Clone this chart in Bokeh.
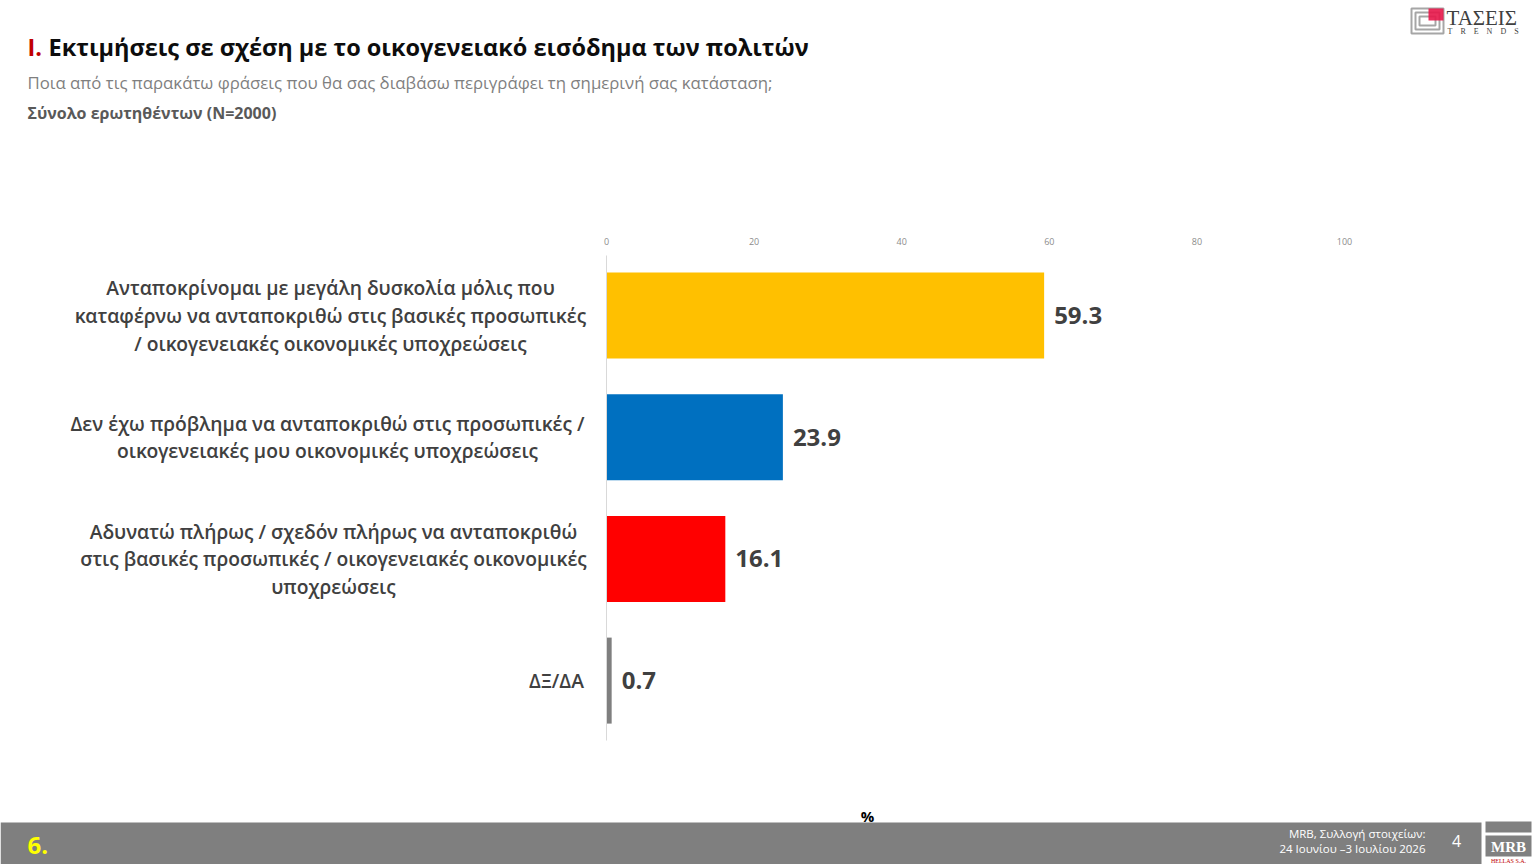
from bokeh.plotting import figure
from bokeh.models import Range1d, LinearAxis, FixedTicker, ColumnDataSource
from bokeh.core.properties import value
from bokeh.embed import file_html
from bokeh.resources import INLINE

# ---------------- data ----------------
categories = [
    "Ανταποκρίνομαι με μεγάλη δυσκολία μόλις που\nκαταφέρνω να ανταποκριθώ στις βασικές προσωπικές\n/ οικογενειακές οικονομικές υποχρεώσεις",
    "Δεν έχω πρόβλημα να ανταποκριθώ στις προσωπικές /\nοικογενειακές μου οικονομικές υποχρεώσεις",
    "Αδυνατώ πλήρως / σχεδόν πλήρως να ανταποκριθώ\nστις βασικές προσωπικές / οικογενειακές οικονομικές\nυποχρεώσεις",
    "ΔΞ/ΔΑ",
]
values = [59.3, 23.9, 16.1, 0.7]
bar_colors = ["#FFC000", "#0070C0", "#FF0000", "#7F7F7F"]
x_ticks = [0, 20, 40, 60, 80, 100]

title_num = "I."
title_text = "Εκτιμήσεις σε σχέση με το οικογενειακό εισόδημα των πολιτών"
subtitle = "Ποια από τις παρακάτω φράσεις που θα σας διαβάσω περιγράφει τη σημερινή σας κατάσταση;"
base_text = "Σύνολο ερωτηθέντων (N=2000)"
unit_text = "%"
page_label = "6."
source_text = "MRB, Συλλογή στοιχείων:\n24 Ιουνίου –3 Ιουλίου 2026"
page_number = "4"

# ---------------- layout ----------------
W, H = 1536, 864
X0, PXU = 606, 7.38          # pixel of value 0, pixels per unit
Y_FIRST, Y_STEP, BAR_H = 315, 121.7, 86
LABEL_CX = [330, 327, 333, 556]

SEMI = value("Open Sans SemiBold, Open Sans")
REG = value("Open Sans")

p = figure(width=W, height=H,
           x_range=Range1d(-X0 / PXU, (W - X0) / PXU),
           y_range=Range1d(H, 0),
           x_axis_type=None, y_axis_type=None,
           toolbar_location=None, output_backend="svg",
           min_border=0, outline_line_color=None,
           background_fill_color="white", border_fill_color="white")
p.extra_x_ranges = {"px": Range1d(0, W)}
p.xgrid.visible = False
p.ygrid.visible = False

ys = [Y_FIRST + i * Y_STEP for i in range(len(values))]
src = ColumnDataSource(dict(
    y=ys, v=values, c=bar_colors, cat=categories, lx=LABEL_CX,
    t=[f"{v:.1f}" for v in values],
))

# top value axis
top_ax = LinearAxis(ticker=FixedTicker(ticks=x_ticks), fixed_location=254,
                    axis_line_color=None, major_tick_line_color=None,
                    minor_tick_line_color=None,
                    major_label_text_font_size="9px",
                    major_label_text_color="#8C8C8C",
                    major_label_text_font="Open Sans",
                    major_label_standoff=4)
p.add_layout(top_ax, "above")

# vertical category axis line
left_ax = LinearAxis(fixed_location=0, bounds=(255, 740),
                     ticker=FixedTicker(ticks=[]),
                     axis_line_color="#D9D9D9", axis_line_width=1,
                     major_tick_line_color=None, minor_tick_line_color=None,
                     major_label_text_font_size="0px")
p.add_layout(left_ax, "left")

# bars
p.hbar(y="y", left=0, right="v", height=BAR_H, fill_color="c",
       line_color=None, source=src)

# value labels
p.text(x="v", y="y", text="t", x_offset=10, text_baseline="middle",
       text_align="left", text_font=REG, text_font_style="bold",
       text_font_size="24px", text_color="#404040", source=src)

# category labels
p.text(x="lx", y="y", text="cat", x_range_name="px", text_align="center",
       text_baseline="middle", text_font=SEMI, text_font_style="bold",
       text_font_size="19.3px", text_color="#404040",
       text_line_height=1.02, source=src)


def txt(x, y, s, size, color, font=REG, style="normal", align="left",
        baseline="middle", lh=1.2):
    p.text(x=[x], y=[y], text=[s], x_range_name="px", text_align=align,
           text_baseline=baseline, text_font=font, text_font_style=style,
           text_font_size=size, text_color=color, text_line_height=lh)


# titles
txt(27, 46, title_num, "23.5px", "#C00000", style="bold")
txt(48, 46, title_text, "23.5px", "#0D0D0D", style="bold")
txt(27, 82, subtitle, "16.8px", "#7F7F7F")
txt(27, 112, base_text, "16px", "#595959", style="bold")

# unit
txt(867, 815, unit_text, "15px", "#000000", style="bold", align="center")

# footer band
p.quad(left=0, right=1481, top=822, bottom=H, x_range_name="px",
       fill_color="#7F7F7F", line_color=None)
txt(27, 845, page_label, "24px", "#FFFF00", style="bold")
txt(1425, 840.5, source_text, "11.5px", "#FFFFFF", align="right", lh=0.95)
txt(1456, 840, page_number, "16px", "#FFFFFF", align="center")

# MRB logo
p.quad(left=1485, right=1531, top=821, bottom=832, x_range_name="px",
       fill_color="#808080", line_color=None)
p.quad(left=1485, right=1531, top=835, bottom=856, x_range_name="px",
       fill_color="#808080", line_color=None)
txt(1508, 846, "MRB", "15px", "#FFFFFF", font=value("Liberation Serif"),
    style="bold", align="center")
txt(1508, 860, "HELLAS S.A.", "6px", "#C00000", font=value("Liberation Serif"),
    align="center")

# TASEIS logo
for (l, r, t, b) in [(1411, 1443, 8, 33), (1415, 1439, 12, 29),
                     (1419, 1435, 16, 25)]:
    p.quad(left=l, right=r, top=t, bottom=b, x_range_name="px",
           fill_color=None, line_color="#A6A6A6", line_width=2)
p.quad(left=1428, right=1443, top=8, bottom=20, x_range_name="px",
       fill_color="#E8174A", line_color=None, fill_alpha=0.9)
txt(1446, 17, "ΤΑΣΕΙΣ", "21px", "#404040", font=value("Liberation Serif"))
NB = "\u00a0" * 4
txt(1447, 31, NB.join("TRENDS"), "8px", "#404040",
    font=value("Liberation Serif"))

open("out.html", "w").write(file_html(p, INLINE))
